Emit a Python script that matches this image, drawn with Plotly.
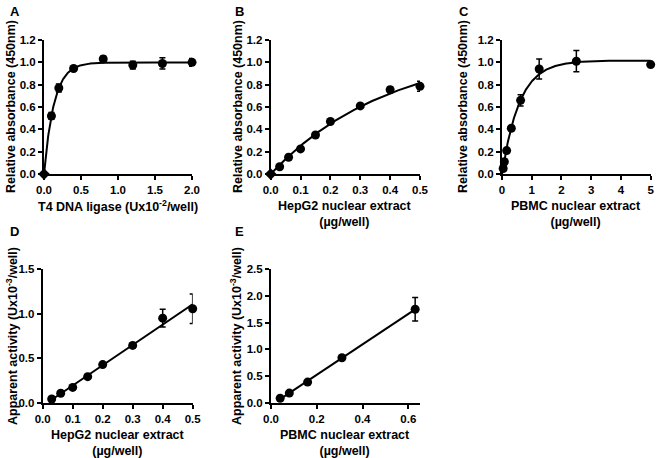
import numpy as np
import plotly.graph_objects as go

# ---------------- data ----------------
a_x = [0, 0.1, 0.2, 0.4, 0.8, 1.2, 1.6, 2.0]
a_y = [0, 0.52, 0.77, 0.945, 1.03, 0.975, 0.99, 1.0]
a_err = [0, 0.03, 0.035, 0.015, 0.025, 0.035, 0.05, 0.035]

b_x = [0, 0.03, 0.06, 0.1, 0.15, 0.2, 0.3, 0.4, 0.5]
b_y = [0, 0.065, 0.15, 0.225, 0.35, 0.47, 0.61, 0.755, 0.785]
b_err = [0, 0.01, 0.01, 0.02, 0.015, 0.01, 0.015, 0.025, 0.045]

c_x = [0.039, 0.078, 0.156, 0.3125, 0.625, 1.25, 2.5, 5.0]
c_y = [0.05, 0.11, 0.21, 0.41, 0.66, 0.94, 1.01, 0.98]
c_err = [0.02, 0.02, 0.02, 0.02, 0.05, 0.09, 0.095, 0.01]

d_x = [0.03, 0.06, 0.1, 0.15, 0.2, 0.3, 0.4, 0.5]
d_y = [0.045, 0.11, 0.175, 0.295, 0.43, 0.645, 0.95, 1.055]
d_err = [0.015, 0.015, 0.015, 0.015, 0.015, 0.03, 0.1, 0.165]

e_x = [0.04, 0.08, 0.16, 0.31, 0.63]
e_y = [0.09, 0.185, 0.39, 0.845, 1.75]
e_err = [0.02, 0.02, 0.02, 0.02, 0.22]

ylab_abs = "Relative absorbance (450nm)"
ylab_act = "Apparent activity (Ux10<sup>-3</sup>/well)"
xlab_a = "T4 DNA ligase (Ux10<sup>-2</sup>/well)"
xlab_hep = "HepG2 nuclear extract<br>(µg/well)"
xlab_pbmc = "PBMC nuclear extract<br>(µg/well)"

# ---------------- fits ----------------
def fit_assoc(x, y):
    x = np.asarray(x, float); y = np.asarray(y, float)
    best = None
    for k in np.linspace(0.05, 30, 6000):
        f = 1 - np.exp(-k * x)
        p = (y * f).sum() / (f * f).sum()
        r = ((y - p * f) ** 2).sum()
        if best is None or r < best[0]:
            best = (r, k, p)
    return best[1], best[2]

def assoc_curve(x, y, x0, x1):
    k, p = fit_assoc(x, y)
    xs = np.linspace(x0, x1, 300)
    return xs, p * (1 - np.exp(-k * xs))

def lin_curve(x, y):
    m, c = np.polyfit(x, y, 1)
    xs = np.array([min(x), max(x)])
    return xs, m * xs + c

FONT = "Liberation Sans, Arial, sans-serif"
W, H = 661, 458
fig = go.Figure()

panels = [
    # id, x, y, err, domain_x, domain_y, curve
    ("1", a_x, a_y, a_err, [0.0666, 0.2905], [0.620, 0.9127], assoc_curve(a_x, a_y, 0, 2.0)),
    ("2", b_x, b_y, b_err, [0.4095, 0.6354], [0.620, 0.9127], assoc_curve(b_x, b_y, 0, 0.5)),
    ("3", c_x, c_y, c_err, [0.7595, 0.9844], [0.620, 0.9127], assoc_curve(c_x, c_y, 0, 5.0)),
    ("4", d_x, d_y, d_err, [0.0646, 0.2915], [0.120, 0.4127], lin_curve(d_x, d_y)),
    ("5", e_x, e_y, e_err, [0.4100, 0.6350], [0.120, 0.4127], lin_curve(e_x, e_y)),
]

for n, x, y, err, dx, dy, curve in panels:
    xa = "x" if n == "1" else "x" + n
    ya = "y" if n == "1" else "y" + n
    fig.add_trace(go.Scatter(x=curve[0], y=curve[1], mode="lines",
                             line=dict(color="black", width=2),
                             xaxis=xa, yaxis=ya, cliponaxis=False,
                             hoverinfo="skip", showlegend=False))
    symbols = ["diamond" if (xi == 0 and yi == 0) else "circle" for xi, yi in zip(x, y)]
    fig.add_trace(go.Scatter(x=x, y=y, mode="markers",
                             marker=dict(color="black", size=9, symbol=symbols),
                             error_y=dict(type="data", array=err, color="black",
                                          thickness=1.5, width=3),
                             xaxis=xa, yaxis=ya, cliponaxis=False, showlegend=False))

axis_common = dict(showgrid=False, zeroline=False, showline=True, linecolor="black",
                   linewidth=2, ticks="outside", tickwidth=2, ticklen=4,
                   tickcolor="black", automargin=False,
                   tickfont=dict(family=FONT, size=11.5, color="black", weight="bold"))
title_font = dict(family=FONT, size=12.5, color="black", weight="bold")

layout = dict(
    width=W, height=H, paper_bgcolor="white", plot_bgcolor="white",
    margin=dict(l=0, r=0, t=0, b=0, autoexpand=False), showlegend=False,
)

xaxes = {
    "xaxis": dict(domain=panels[0][4], range=[0, 2.0], tickvals=[0, 0.5, 1.0, 1.5, 2.0],
                  tickformat=".1f", anchor="y"),
    "xaxis2": dict(domain=panels[1][4], range=[0, 0.5], tickvals=[0, 0.1, 0.2, 0.3, 0.4, 0.5],
                   tickformat=".1f", anchor="y2"),
    "xaxis3": dict(domain=panels[2][4], range=[0, 5], tickvals=[0, 1, 2, 3, 4, 5],
                   tickformat="d", anchor="y3"),
    "xaxis4": dict(domain=panels[3][4], range=[0, 0.5], tickvals=[0, 0.1, 0.2, 0.3, 0.4, 0.5],
                   tickformat=".1f", anchor="y4"),
    "xaxis5": dict(domain=panels[4][4], range=[0, 0.65], tickvals=[0, 0.2, 0.4, 0.6],
                   tickformat=".1f", anchor="y5"),
}
yaxes = {
    "yaxis": dict(domain=panels[0][5], range=[0, 1.2], tickvals=[0, 0.2, 0.4, 0.6, 0.8, 1.0, 1.2],
                  tickformat=".1f", anchor="x"),
    "yaxis2": dict(domain=panels[1][5], range=[0, 1.2], tickvals=[0, 0.2, 0.4, 0.6, 0.8, 1.0, 1.2],
                   tickformat=".1f", anchor="x2"),
    "yaxis3": dict(domain=panels[2][5], range=[0, 1.2], tickvals=[0, 0.2, 0.4, 0.6, 0.8, 1.0, 1.2],
                   tickformat=".1f", anchor="x3"),
    "yaxis4": dict(domain=panels[3][5], range=[0, 1.5], tickvals=[0, 0.5, 1.0, 1.5],
                   tickformat=".1f", anchor="x4"),
    "yaxis5": dict(domain=panels[4][5], range=[0, 2.5], tickvals=[0, 0.5, 1.0, 1.5, 2.0, 2.5],
                   tickformat=".1f", anchor="x5"),
}
for k, v in xaxes.items():
    layout[k] = {**axis_common, **v}
for k, v in yaxes.items():
    layout[k] = {**axis_common, **v}

annotations = []
# panel letters
for t, px, py in [("A", 8, 12), ("B", 233, 12), ("C", 457, 12), ("D", 8, 231), ("E", 233, 231)]:
    annotations.append(dict(text=t, x=px / W, y=1 - py / H, xref="paper", yref="paper",
                            xanchor="left", yanchor="middle", showarrow=False,
                            font=dict(family=FONT, size=13, color="black", weight="bold")))
# y-axis titles (rotated)
for t, px, py in [(ylab_abs, 11, 107), (ylab_abs, 238, 107), (ylab_abs, 463, 107),
                  (ylab_act, 12, 336), (ylab_act, 236, 336)]:
    annotations.append(dict(text=t, x=px / W, y=1 - py / H, xref="paper", yref="paper",
                            xanchor="center", yanchor="middle", textangle=-90, showarrow=False,
                            font=title_font))
# x-axis titles
for t, px, py in [(xlab_a, 118, 206), (xlab_hep, 345, 214), (xlab_pbmc, 576, 214),
                  (xlab_hep, 118, 443), (xlab_pbmc, 345, 443)]:
    annotations.append(dict(text=t, x=px / W, y=1 - py / H, xref="paper", yref="paper",
                            xanchor="center", yanchor="middle", showarrow=False,
                            font=title_font))
layout["annotations"] = annotations

fig.update_layout(**layout)
fig.write_html("out.html", config={"displayModeBar": False},
               post_script="document.body.style.margin='0px';document.body.style.overflow='hidden';")
